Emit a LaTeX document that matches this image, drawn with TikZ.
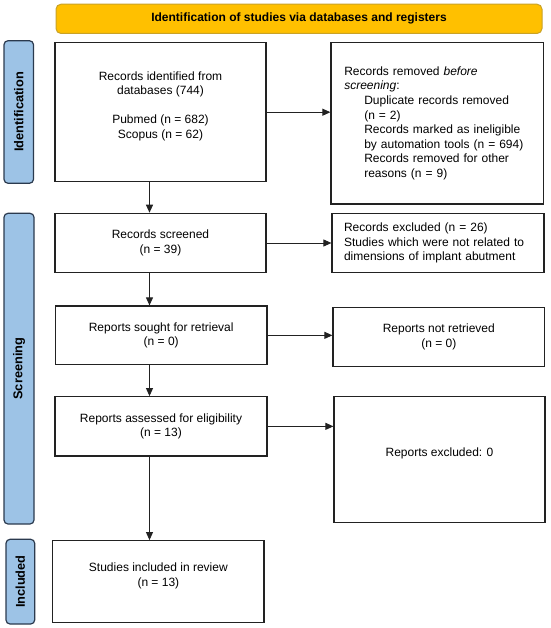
\documentclass[tikz,border=0pt]{standalone}
\usepackage{fontspec}
\setmainfont{Liberation Sans}
\usetikzlibrary{arrows.meta}
\definecolor{gold}{HTML}{FFC000}
\definecolor{goldline}{HTML}{C9A227}
\definecolor{sideblue}{HTML}{9DC3E6}
\definecolor{sideline}{HTML}{2B3A4E}
\definecolor{boxline}{HTML}{222222}
\begin{document}
\begin{tikzpicture}[x=1pt,y=-1pt,
  every node/.style={font=\fontsize{12}{14.6}\selectfont},
  flowbox/.style={draw=boxline, line width=1.2pt, fill=white, align=center, inner sep=0pt},
  sidebox/.style={draw=sideline, fill=sideblue, line width=1.2pt, rounded corners=4pt, rotate=90, inner sep=0pt, font=\fontsize{12.8}{14}\selectfont\bfseries},
  banner/.style={draw=goldline, fill=gold, line width=1pt, rounded corners=5pt, inner sep=0pt, font=\fontsize{12}{14}\selectfont\bfseries},
  arr/.style={draw=boxline, line width=0.9pt, -{Triangle[length=8pt,width=7pt]}}
]
\useasboundingbox (0,0) rectangle (550,628);

% banner
\node[banner, minimum width=486pt, minimum height=29.3pt] (ban) at (299,18.85) {Identification of studies via databases and registers};

% side bars
\node[sidebox, minimum width=142.6pt, minimum height=29.5pt] (s1) at (18.75,112) {Identification};
\node[sidebox, minimum width=310.7pt, minimum height=30pt] (s2) at (19,368.65) {Screening};
\node[sidebox, minimum width=84.7pt, minimum height=28.7pt] (s3) at (20.35,581.65) {Included};

% left column
\node[flowbox, minimum width=211pt, minimum height=139pt] (b1) at (160.5,112.2)
  {Records identified from\\databases (744)\\[14.6pt]Pubmed (n = 682)\\Scopus (n = 62)\\\mbox{}};
\node[flowbox, minimum width=211pt, minimum height=59.4pt] (b2) at (160.5,243)
  {Records screened\\(n = 39)};
\node[flowbox, minimum width=211.6pt, minimum height=58.7pt] (b3) at (161.2,335.35)
  {Reports sought for retrieval\\(n = 0)};
\node[flowbox, minimum width=212pt, minimum height=59.3pt] (b4) at (161,426.35)
  {Reports assessed for eligibility\\(n = 13)};
\node[flowbox, minimum width=211.3pt, minimum height=82pt] (b5) at (158.35,581.7)
  {Studies included in review\\(n = 13)\\\mbox{}};

% right column
\node[flowbox, align=left, text width=186pt, minimum width=212.5pt, minimum height=161.3pt] (rem) at (437.25,123.35)
  {Records removed \textit{before}\\
   \textit{screening}:\\
   \hspace*{20pt}Duplicate records removed\\
   \hspace*{20pt}(n = 2)\\
   \hspace*{20pt}Records marked as ineligible\\
   \hspace*{20pt}by automation tools (n = 694)\\
   \hspace*{20pt}Records removed for other\\
   \hspace*{20pt}reasons (n = 9)};
\node[flowbox, align=left, text width=188pt, minimum width=212pt, minimum height=59.4pt] (exc) at (438,243)
  {Records excluded (n = 26)\\Studies which were not related to\\dimensions of implant abutment};
\node[flowbox, minimum width=211.6pt, minimum height=59.4pt] (nr) at (438.8,337)
  {Reports not retrieved\\(n = 0)};
\node[flowbox, minimum width=211pt, minimum height=126pt] (ex2) at (439.5,459.7)
  {Reports excluded: 0\\\mbox{}};

% connectors
\coordinate (ax) at (149.5,0);
\draw[arr] (b1.east) -- (b1.east -| rem.west);
\draw[arr] (b2.east) -- (b2.east -| exc.west);
\draw[arr] (b3.east) -- (b3.east -| nr.west);
\draw[arr] (b4.east) -- (b4.east -| ex2.west);
\draw[arr] (b1.south -| ax) -- (b2.north -| ax);
\draw[arr] (b2.south -| ax) -- (b3.north -| ax);
\draw[arr] (b3.south -| ax) -- (b4.north -| ax);
\draw[arr] (b4.south -| ax) -- (b5.north -| ax);
\end{tikzpicture}
\end{document}
